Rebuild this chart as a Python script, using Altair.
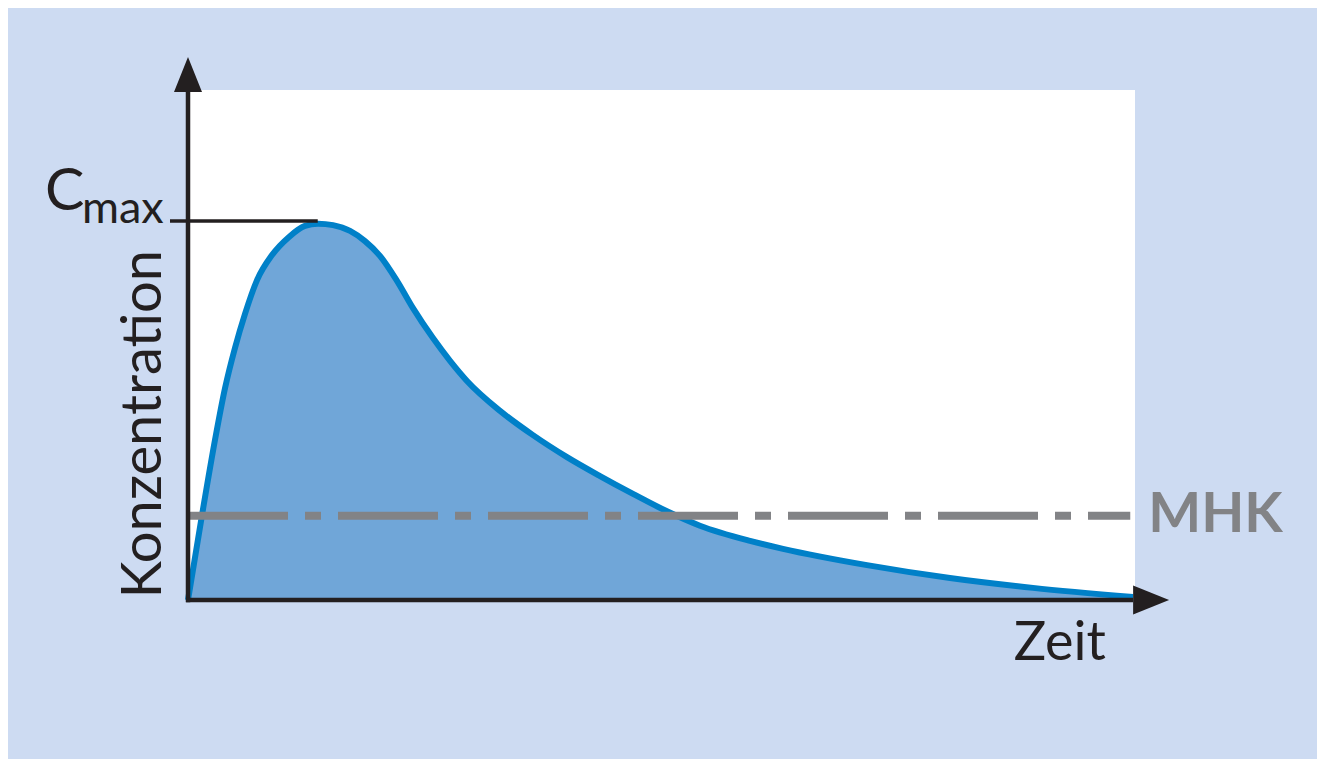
import altair as alt
import pandas as pd

# Concentration-time curve (time in arbitrary units 0..10, concentration with Cmax = 100)
time_h = [0, 0.148, 0.285, 0.391, 0.496, 0.602, 0.729, 0.887, 1.067, 1.235, 1.373,
          1.531, 1.711, 1.869, 2.027, 2.207, 2.376, 2.587, 2.767, 2.946, 3.295, 3.643,
          4.002, 4.351, 4.699, 5.058, 5.406, 5.935, 6.283, 7.170, 8.046, 8.923, 9.979]
conc = [0, 22.4, 42.2, 55.9, 66.5, 75.5, 84.4, 91.0, 95.8, 98.7, 99.3,
        98.9, 97.4, 94.7, 90.8, 84.2, 77.0, 69.1, 63.1, 57.8, 49.9, 43.5,
        37.7, 32.7, 28.0, 23.4, 19.6, 15.6, 13.5, 9.2, 5.8, 3.2, 0.8]

T_MAX = 10.0
C_TOP = 134.56
CMAX = 100
MHK = 22.2

curve = pd.DataFrame({"t": time_h, "c": conc})

xs = alt.Scale(domain=[0, T_MAX], nice=False, zero=False)
ys = alt.Scale(domain=[0, C_TOP], nice=False, zero=False)
X = lambda f="t": alt.X(f"{f}:Q", scale=xs, axis=None)
Y = lambda f="c": alt.Y(f"{f}:Q", scale=ys, axis=None)

BLACK = "#231f20"
GREY = "#828386"

area = alt.Chart(curve).mark_area(color="#70a6d8", interpolate="monotone").encode(x=X(), y=Y())
line = alt.Chart(curve).mark_line(color="#0080c8", strokeWidth=6, interpolate="monotone").encode(x=X(), y=Y())

mhk_df = pd.DataFrame({"t": [0], "t2": [9.95], "c": [MHK]})
mhk = alt.Chart(mhk_df).mark_rule(color=GREY, strokeWidth=8, strokeDash=[100, 17, 16, 17], strokeCap="butt").encode(
    x=X(), x2="t2:Q", y=Y())

cmax_df = pd.DataFrame({"t": [-0.19], "t2": [1.37], "c": [CMAX]})
cmax = alt.Chart(cmax_df).mark_rule(color=BLACK, strokeWidth=3.5).encode(x=X(), x2="t2:Q", y=Y())

yaxis_df = pd.DataFrame({"t": [0.0], "c": [-0.6], "c2": [134.0]})
yaxis = alt.Chart(yaxis_df).mark_rule(color=BLACK, strokeWidth=4.5).encode(x=X(), y=Y(), y2="c2:Q")
xaxis_df = pd.DataFrame({"t": [-0.02], "t2": [9.98], "c": [0.0]})
xaxis = alt.Chart(xaxis_df).mark_rule(color=BLACK, strokeWidth=4.5).encode(x=X(), x2="t2:Q", y=Y())

up_df = pd.DataFrame({"t": [0.0], "c": [138.65]})
up = alt.Chart(up_df).mark_point(shape="M -0.8 1 L 0.8 1 L 0 -1 Z", size=1225, filled=True,
                                 color=BLACK, opacity=1, strokeWidth=0).encode(x=X(), y=Y())
right_df = pd.DataFrame({"t": [10.17], "c": [0.0]})
right = alt.Chart(right_df).mark_point(shape="M -1 -0.8 L 1 0 L -1 0.8 Z", size=1296, filled=True,
                                       color=BLACK, opacity=1, strokeWidth=0).encode(x=X(), y=Y())

ylab_df = pd.DataFrame({"t": [-0.285], "c": [46.4], "label": ["Konzentration"]})
ylab = alt.Chart(ylab_df).mark_text(font="Lato", fontSize=56, color=BLACK, angle=270, align="center",
                                    baseline="alphabetic").encode(x=X(), y=Y(), text="label:N")
xlab_df = pd.DataFrame({"t": [8.72], "c": [-15.8], "label": ["Zeit"]})
xlab = alt.Chart(xlab_df).mark_text(font="Lato", fontSize=54, color=BLACK, align="left",
                                    baseline="alphabetic").encode(x=X(), y=Y(), text="label:N")
c_df = pd.DataFrame({"t": [-1.51], "c": [102.9], "label": ["C"]})
clab = alt.Chart(c_df).mark_text(font="Lato", fontSize=59, color=BLACK, align="left",
                                 baseline="alphabetic").encode(x=X(), y=Y(), text="label:N")
max_df = pd.DataFrame({"t": [-1.12], "c": [99.5], "label": ["max"]})
maxlab = alt.Chart(max_df).mark_text(font="Lato", fontSize=45, color=BLACK, align="left",
                                     baseline="alphabetic").encode(x=X(), y=Y(), text="label:N")
mhk_lab_df = pd.DataFrame({"t": [10.14], "c": [17.9], "label": ["MHK"]})
mhklab = alt.Chart(mhk_lab_df).mark_text(font="Lato", fontSize=56, fontWeight="bold", color=GREY, align="left",
                                         baseline="alphabetic").encode(x=X(), y=Y(), text="label:N")

chart = alt.layer(area, line, mhk, cmax, yaxis, xaxis, up, right, ylab, xlab, clab, maxlab, mhklab).properties(
    width=947, height=510,
    autosize="none",
    padding={"left": 180, "top": 82, "right": 182, "bottom": 159},
    background="#cddbf2",
).configure_view(stroke=None, fill="white")

chart.save("out.html", embed_options={"renderer": "svg", "actions": False})
